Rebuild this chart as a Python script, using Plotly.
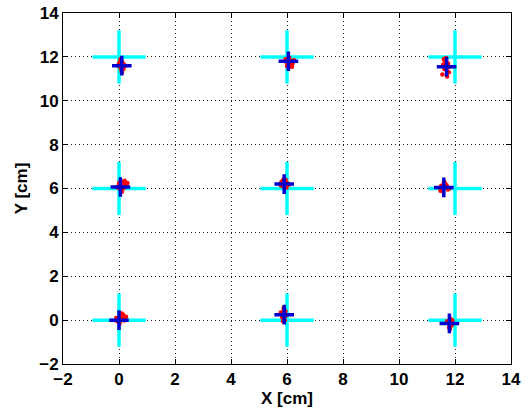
import plotly.graph_objects as go

# Target grid positions (cyan crosses)
target_x = [0, 6, 12, 0, 6, 12, 0, 6, 12]
target_y = [12, 12, 12, 6, 6, 6, 0, 0, 0]

# Mean measured positions (blue crosses)
mean_x = [0.10, 6.05, 11.70, 0.05, 5.90, 11.60, 0.00, 5.90, 11.80]
mean_y = [11.60, 11.80, 11.55, 6.07, 6.20, 6.05, 0.00, 0.25, -0.15]

# Individual measurements (red points), per target
red_x = [
    0.05, 0.12, 0.18, 0.02, 0.15, 0.08, 0.22, 0.00, 0.10, 0.16, 0.06, 0.13,
    5.95, 6.10, 6.20, 6.00, 6.25, 6.05, 5.92, 6.15, 6.08, 6.02, 6.18, 6.12,
    11.60, 11.75, 11.70, 11.55, 11.80, 11.65, 11.72, 11.58, 11.78, 11.68, 11.62, 11.74,
    0.00, 0.12, 0.25, 0.05, 0.30, 0.15, -0.05, 0.20, 0.10, 0.08, 0.22, 0.02,
    5.80, 5.95, 6.05, 5.85, 5.90, 6.00, 5.78, 5.98, 5.88, 5.92, 6.08, 5.83,
    11.50, 11.65, 11.75, 11.55, 11.60, 11.70, 11.48, 11.62, 11.80, 11.58, 11.52, 11.68,
    -0.10, 0.05, 0.20, 0.00, 0.15, -0.05, 0.25, 0.10, 0.02, -0.12, 0.08, 0.18,
    5.80, 5.90, 5.95, 5.85, 5.88, 5.92, 5.78, 5.98, 5.86, 5.94, 5.82, 5.90,
    11.75, 11.85, 11.80, 11.90, 11.78, 11.82, 11.72, 11.88, 11.84, 11.76, 11.80, 11.86,
]
red_y = [
    11.85, 11.75, 11.65, 11.55, 11.50, 11.40, 11.60, 11.70, 11.30, 11.45, 11.90, 11.62,
    11.90, 11.75, 11.70, 11.60, 11.85, 11.50, 11.80, 11.65, 11.95, 11.72, 11.55, 11.82,
    11.90, 11.70, 11.40, 11.20, 11.55, 11.80, 11.10, 11.65, 11.30, 11.95, 11.45, 11.60,
    6.20, 6.30, 6.10, 5.95, 6.25, 6.00, 6.05, 6.35, 5.85, 6.15, 6.18, 6.28,
    6.30, 6.40, 6.20, 6.10, 6.35, 6.25, 6.15, 6.05, 6.42, 6.22, 6.18, 6.32,
    6.10, 6.20, 5.95, 6.05, 6.25, 6.15, 5.90, 6.30, 6.00, 5.85, 6.12, 6.08,
    0.10, 0.20, 0.05, -0.10, 0.25, -0.05, 0.15, 0.30, -0.15, 0.00, 0.12, -0.02,
    0.30, 0.45, 0.20, 0.10, 0.55, 0.00, 0.35, 0.25, -0.05, 0.40, 0.15, 0.50,
    -0.10, -0.20, -0.30, 0.00, -0.15, -0.40, -0.05, -0.25, 0.05, -0.12, -0.35, -0.22,
]

fig = go.Figure()

fig.add_trace(go.Scatter(
    x=target_x, y=target_y, mode="markers",
    marker=dict(symbol="cross-thin", size=38, color="#00FFFF",
                line=dict(color="#00FFFF", width=3.5)),
    hoverinfo="skip", showlegend=False,
))
fig.add_trace(go.Scatter(
    x=red_x, y=red_y, mode="markers",
    marker=dict(symbol="circle", size=4.5, color="#FF0000", line=dict(width=0)),
    hoverinfo="skip", showlegend=False,
))
fig.add_trace(go.Scatter(
    x=mean_x, y=mean_y, mode="markers",
    marker=dict(symbol="cross-thin", size=14, color="#0000CC",
                line=dict(color="#0000CC", width=3.5)),
    hoverinfo="skip", showlegend=False,
))

tick_font = dict(family="Liberation Sans, Arial, sans-serif", size=17, color="black", weight="bold")
title_font = dict(family="Liberation Sans, Arial, sans-serif", size=17, color="black", weight="bold")

axis_common = dict(
    showgrid=True, gridcolor="#222222", griddash="1px,3px", gridwidth=1,
    zeroline=False, showline=True, linecolor="black", linewidth=1,
    mirror="ticks", ticks="inside", ticklen=5, tickcolor="black",
    dtick=2, tickfont=tick_font, automargin=False,
)

fig.update_layout(
    width=528, height=412,
    margin=dict(l=63, r=17, t=13, b=48),
    paper_bgcolor="white", plot_bgcolor="white",
    xaxis=dict(range=[-2, 14], title=dict(text="X [cm]", font=title_font, standoff=3), **axis_common),
    yaxis=dict(range=[-2, 14], title=dict(text="Y [cm]", font=title_font, standoff=7), **axis_common),
)

fig.write_html(
    "out.html",
    config={"displayModeBar": False},
    post_script="document.body.style.margin='0';document.body.style.overflow='hidden';",
)
